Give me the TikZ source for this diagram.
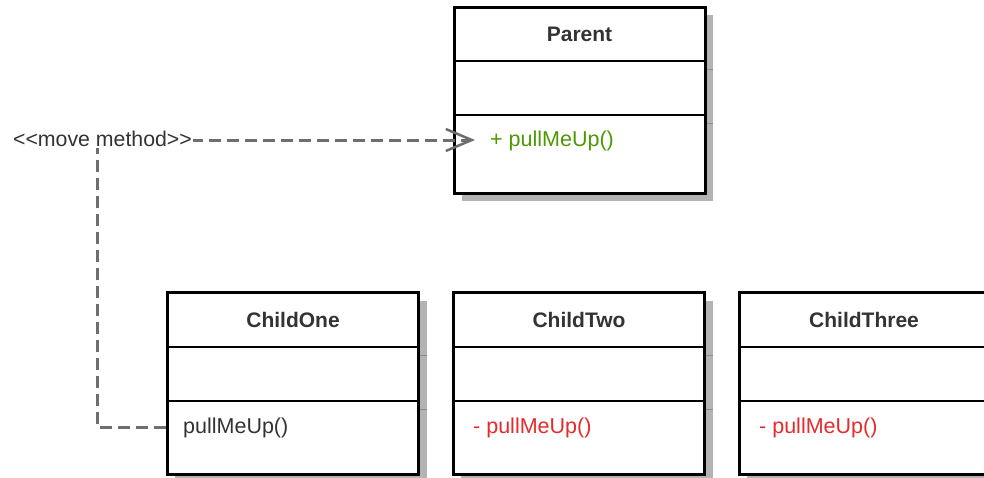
\documentclass[tikz,border=0pt]{standalone}
\usepackage{fontspec}
\setmainfont{Liberation Sans}
\usetikzlibrary{arrows.meta}
\definecolor{hdr}{HTML}{333333}
\definecolor{grn}{HTML}{4D9900}
\definecolor{rd}{HTML}{E52B2B}
\definecolor{shd}{HTML}{B3B3B3}
\definecolor{edgec}{HTML}{6E6E6E}
\begin{document}
\begin{tikzpicture}[x=1pt,y=-1pt,
  classbox/.style={draw=black,line width=3pt,fill=white,minimum width=251pt,minimum height=182pt,inner sep=0pt},
  parentbox/.style={classbox,minimum height=186pt},
  divider/.style={draw=black,line width=2.5pt},
  shadowbox/.style={fill=shd},
  shadowtick/.style={draw=black!45,line width=1pt},
  hdrtext/.style={font=\fontsize{21}{25}\selectfont\bfseries,text=hdr,inner sep=0pt},
  methtext/.style={font=\fontsize{21.5}{25}\selectfont,inner sep=0pt,anchor=west},
  edgeline/.style={draw=edgec,line width=3pt,dash pattern=on 12pt off 6pt},
  lbl/.style={font=\fontsize{21.3}{24}\selectfont,text=hdr,fill=white,inner sep=1.5pt}
]
\useasboundingbox (0,0) rectangle (984,477);
\fill[white] (0,0) rectangle (984,477);

% shadows
\fill[shadowbox] (462,15) rectangle (713,201);
\fill[shadowbox] (175,301) rectangle (427,481);
\fill[shadowbox] (461,301) rectangle (713,481);
\fill[shadowbox] (747,301) rectangle (999,481);
\draw[shadowtick] (705,69) -- (713,69) (705,123) -- (713,123);
\draw[shadowtick] (419,355) -- (427,355) (419,409) -- (427,409);
\draw[shadowtick] (705,355) -- (713,355) (705,409) -- (713,409);

% Parent
\node[parentbox] (parent) at (579.5,100) {};
\draw[divider] (454,61) -- (705,61) (454,115) -- (705,115);
\node[hdrtext] (parentname) at (579.5,34) {Parent};
\node[methtext,text=grn] (parentm) at (490,141) {+ pullMeUp()};

% ChildOne
\node[classbox] (childone) at (293,383) {};
\draw[divider] (167,347) -- (419,347) (167,401) -- (419,401);
\node[hdrtext] (c1name) at (293,320) {ChildOne};
\node[methtext,text=hdr] (c1m) at (183,428) {pullMeUp()};

% ChildTwo
\node[classbox] (childtwo) at (579,383) {};
\draw[divider] (453,347) -- (705,347) (453,401) -- (705,401);
\node[hdrtext] (c2name) at (579,320) {ChildTwo};
\node[methtext,text=rd] (c2m) at (473,428) {- pullMeUp()};

% ChildThree
\node[classbox] (childthree) at (865,383) {};
\draw[divider] (739,347) -- (991,347) (739,401) -- (991,401);
\node[hdrtext] (c3name) at (864,320) {ChildThree};
\node[methtext,text=rd] (c3m) at (759,428) {- pullMeUp()};

% move method edge
\coordinate (bendlow) at (97,427);
\coordinate (bendhigh) at (97,140);
\coordinate (ptip) at (475,140);
\draw[edgeline,-{Straight Barb[length=26pt,width=22pt,line width=2.5pt]}]
  (childone.west |- bendlow) -- (bendlow) -- (bendhigh) -- (ptip);
\node[lbl] (movelbl) at (102.5,139) {\symbol{60}\symbol{60}move method\symbol{62}\symbol{62}};
\end{tikzpicture}
\end{document}
